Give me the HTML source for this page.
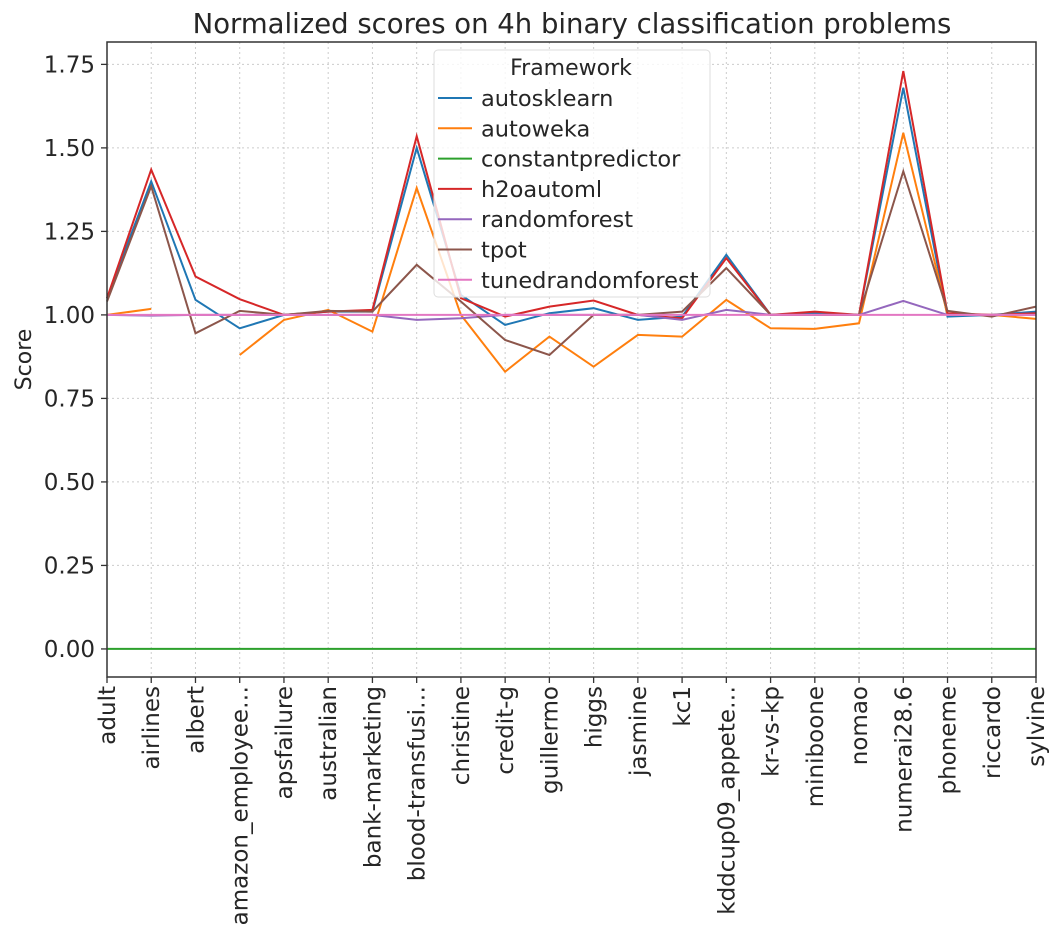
<!DOCTYPE html>
<html><head><meta charset="utf-8"><style>body{margin:0;background:#fff}svg text{font-family:"DejaVu Sans","Liberation Sans",sans-serif;fill:#262626}</style></head>
<body>
<svg id="chart" width="1060" height="943" xmlns="http://www.w3.org/2000/svg"></svg>
<script>
const categories=["adult","airlines","albert","amazon_employee…","apsfailure","australian","bank-marketing","blood-transfusi…","christine","credit-g","guillermo","higgs","jasmine","kc1","kddcup09_appete…","kr-vs-kp","miniboone","nomao","numerai28.6","phoneme","riccardo","sylvine"];
const seriesNames=["autosklearn","autoweka","constantpredictor","h2oautoml","randomforest","tpot","tunedrandomforest"];
const seriesColors=["#1f77b4","#ff7f0e","#2ca02c","#d62728","#9467bd","#8c564b","#e377c2"];
const autosklearn=[1.05,1.40,1.045,0.96,1.0,1.01,1.01,1.50,1.06,0.97,1.005,1.02,0.985,0.995,1.18,1.0,1.005,1.0,1.68,0.995,1.0,1.01];
const autoweka=[1.0,1.018,null,0.88,0.985,1.015,0.95,1.38,1.0,0.83,0.935,0.845,0.94,0.935,1.045,0.96,0.958,0.975,1.545,1.0,1.0,0.988];
const constantpredictor=[0,0,0,0,0,0,0,0,0,0,0,0,0,0,0,0,0,0,0,0,0,0];
const h2oautoml=[1.05,1.435,1.115,1.047,1.0,1.01,1.015,1.535,1.05,0.995,1.025,1.043,1.0,0.99,1.17,1.0,1.01,1.0,1.73,1.005,1.0,1.005];
const randomforest=[1.0,0.998,1.0,1.0,1.0,1.0,1.0,0.985,0.99,1.0,1.0,1.0,1.0,0.985,1.015,1.0,1.0,1.0,1.042,1.0,1.0,1.0];
const tpot=[1.04,1.385,0.945,1.012,1.0,1.012,1.01,1.15,1.04,0.925,0.88,1.0,1.0,1.01,1.14,1.0,1.0,1.0,1.43,1.012,0.995,1.025];
const tunedrandomforest=[1,1,1,1,1,1,1,1,1,1,1,1,1,1,1,1,1,1,1,1,1,1];
const yTicks=[0,0.25,0.5,0.75,1.0,1.25,1.5,1.75];
const yTickLabels=["0.00","0.25","0.50","0.75","1.00","1.25","1.50","1.75"];

const svg=document.getElementById('chart');
const NS="http://www.w3.org/2000/svg";
const L=107,R=1036,T=42,B=677,yMin=-0.084,yMax=1.817;
const x=i=>L+(R-L)*i/(categories.length-1);
const y=v=>B-(v-yMin)/(yMax-yMin)*(B-T);
function mk(tag,attrs,parent){const e=document.createElementNS(NS,tag);for(const k in attrs)e.setAttribute(k,attrs[k]);(parent||svg).appendChild(e);return e;}

const title=mk('text',{x:572,y:33,'text-anchor':'middle','font-size':27.5});
title.textContent="Normalized scores on 4h binary classification problems";



const grid=mk('g',{});


categories.forEach((c,i)=>{
 mk('line',{x1:x(i),x2:x(i),y1:T,y2:B,stroke:'#ccc','stroke-dasharray':'2,3','stroke-width':1},grid);
 mk('line',{x1:x(i),x2:x(i),y1:B,y2:B+6,stroke:'#333','stroke-width':1.3});
 const t=mk('text',{x:0,y:0,'text-anchor':'end','font-size':23,transform:`translate(${x(i)+8},${B+9}) rotate(-90)`});
 t.textContent=c;
 
 
});
yTicks.forEach((v,i)=>{
 mk('line',{x1:L,x2:R,y1:y(v),y2:y(v),stroke:'#ccc','stroke-dasharray':'2,3','stroke-width':1},grid);
 mk('line',{x1:L-6,x2:L,y1:y(v),y2:y(v),stroke:'#333','stroke-width':1.3});
 const t=mk('text',{x:L-12,y:y(v)+8,'text-anchor':'end','font-size':23});
 t.textContent=yTickLabels[i];
 
 
});
const yt=mk('text',{x:0,y:0,'text-anchor':'middle','font-size':22,transform:`translate(31,${(T+B)/2}) rotate(-90)`});
yt.textContent="Score";



const allSeries=[autosklearn,autoweka,constantpredictor,h2oautoml,randomforest,tpot,tunedrandomforest];
allSeries.forEach((vals,s)=>{
 let d='',pen=false;
 vals.forEach((v,i)=>{if(v===null){pen=false;return;}d+=(pen?'L':'M')+x(i).toFixed(1)+','+y(v).toFixed(1);pen=true;});
 const p=mk('path',{d:d,fill:'none',stroke:seriesColors[s],'stroke-width':2});
 
 
});

const frame=mk('rect',{x:L,y:T,width:R-L,height:B-T,fill:'none',stroke:'#333','stroke-width':1.5});



const lg=mk('g',{});


mk('rect',{x:434,y:50,width:276,height:247,rx:4,fill:'#fff','fill-opacity':0.8,stroke:'#ddd'},lg);
const lt=mk('text',{x:571,y:75,'text-anchor':'middle','font-size':22},lg);
lt.textContent="Framework";


seriesNames.forEach((n,i)=>{
 const g=mk('g',{},lg);
 
 
 const yy=98+i*30.3;
 mk('line',{x1:438,x2:472,y1:yy,y2:yy,stroke:seriesColors[i],'stroke-width':2},g);
 const t=mk('text',{x:481,y:yy+8,'font-size':22.5},g);
 t.textContent=n;
});
</script>
</body></html>
